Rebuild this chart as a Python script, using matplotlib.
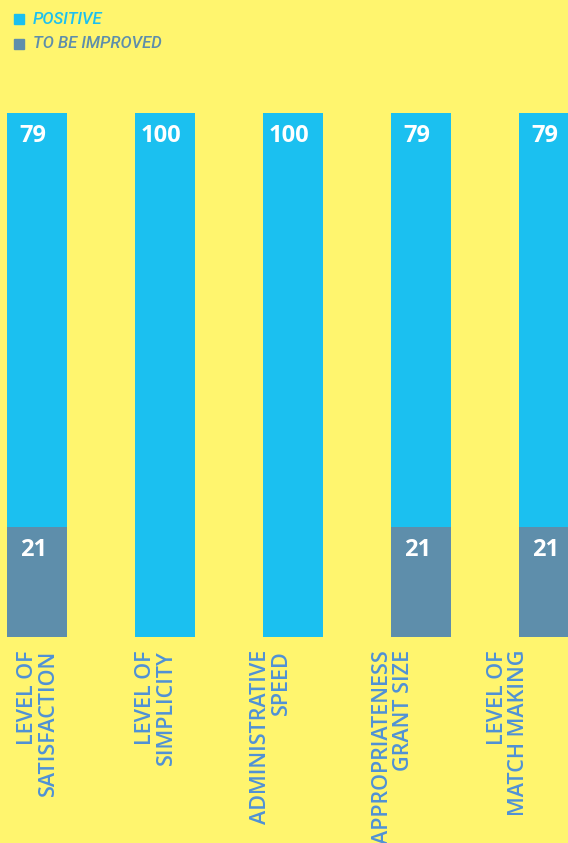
import matplotlib.pyplot as plt
from matplotlib.patches import Rectangle

# data
categories = ["LEVEL OF\nSATISFACTION", "LEVEL OF\nSIMPLICITY", "ADMINISTRATIVE\nSPEED",
              "APPROPRIATENESS\nGRANT SIZE", "LEVEL OF\nMATCH MAKING"]
improve = [21, 0, 0, 21, 21]
positive = [79, 100, 100, 79, 79]
series_names = ["POSITIVE", "TO BE IMPROVED"]

BG = "#FFF56E"
CYAN = "#1BC0F0"
GREY = "#5E8EAB"
LABEL = "#4F91D6"

W, H = 568, 843
fig = plt.figure(figsize=(W / 100, H / 100), dpi=100, facecolor=BG)
ax = fig.add_axes([0, (H - 637) / H, 1, 524 / H])
ax.set_facecolor(BG)

x = list(range(len(categories)))
bw = 60 / 128
ax.bar(x, improve, width=bw, color=GREY)
ax.bar(x, positive, bottom=improve, width=bw, color=CYAN)
ax.set_xlim(-37 / 128, (W - 37) / 128)
ax.set_ylim(0, 100)
ax.axis("off")

num_font = dict(color="white", fontsize=17, fontweight="bold", family=["Open Sans", "DejaVu Sans"],
                ha="center", va="top")
for i in x:
    ax.text(i - 0.03, improve[i] + positive[i] - 2.1, str(positive[i]), **num_font)
    if improve[i]:
        ax.text(i - 0.03, improve[i] - 2.1, str(improve[i]), **num_font)

# category labels, rotated, sitting under the bars
label_x = [0.01, 0.93, 1.83, 2.78, 3.68]
for lx, lab in zip(label_x, categories):
    ax.text(lx, -13 / 524, lab, transform=ax.get_xaxis_transform(), rotation=90,
            ha="center", va="top", multialignment="right", color=LABEL, fontsize=15.5,
            fontweight="semibold", family=["Open Sans", "DejaVu Sans"], linespacing=1.0)

# legend
for k, (name, col) in enumerate(zip(series_names, [CYAN, GREY])):
    yc = 19 + 25 * k
    fig.patches.append(Rectangle((14 / W, 1 - (yc + 5) / H), 10 / W, 10 / H,
                                 transform=fig.transFigure, color=col))
    fig.text(33 / W, 1 - yc / H, name, color=col, fontsize=12, style="italic",
             fontweight="medium", va="center", ha="left",
             family=["Liberation Sans Narrow", "Roboto", "DejaVu Sans"])

fig.savefig("out.png", dpi=100, facecolor=BG)
